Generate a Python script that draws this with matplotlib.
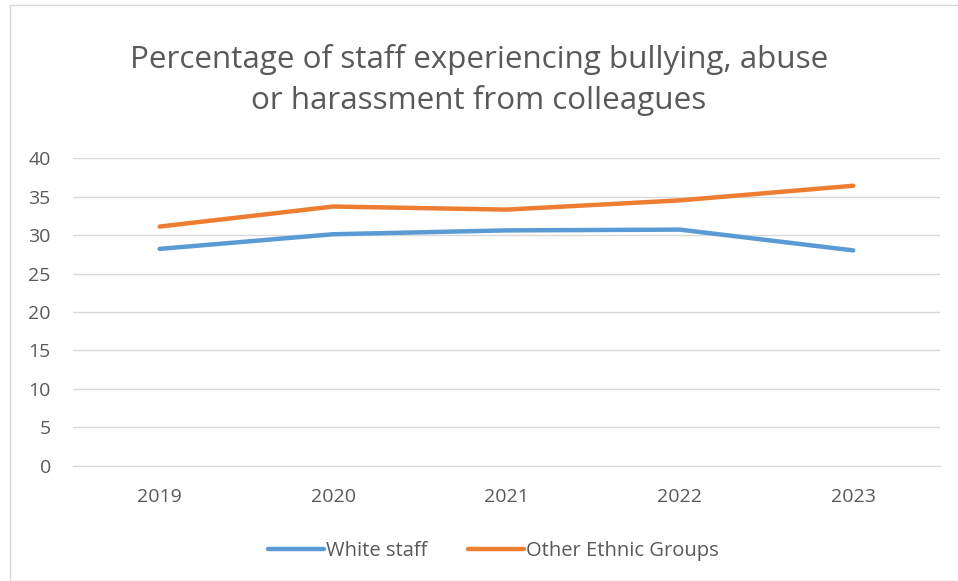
import matplotlib.pyplot as plt
from matplotlib.patches import Rectangle

years = ['2019', '2020', '2021', '2022', '2023']
white_staff = [28.2, 30.1, 30.6, 30.7, 28.0]
other_ethnic = [31.1, 33.7, 33.3, 34.5, 36.4]

plt.rcParams['font.family'] = ['Open Sans', 'DejaVu Sans']
grey = '#595959'

fig = plt.figure(figsize=(9.58, 5.81), dpi=100)
ax = fig.add_axes([0.0762, 0.198, 0.905, 0.530])

x = range(len(years))
ax.plot(x, white_staff, color='#5B9BD5', lw=3.2, solid_capstyle='round', label='White staff')
ax.plot(x, other_ethnic, color='#ED7D31', lw=3.2, solid_capstyle='round', label='Other Ethnic Groups')

ax.set_xlim(-0.5, 4.5)
ax.set_ylim(0, 40)
ax.set_yticks(range(0, 41, 5))
ax.set_xticks(list(x))
ax.set_xticklabels(years)
ax.yaxis.grid(True, color='#D9D9D9', lw=1)
ax.set_axisbelow(True)
for s in ['top', 'right', 'left']:
    ax.spines[s].set_visible(False)
ax.spines['bottom'].set_color('#D9D9D9')
ax.tick_params(axis='both', length=0, labelsize=14, colors=grey)
ax.tick_params(axis='x', pad=16)
ax.tick_params(axis='y', pad=16)

fig.text(0.5, 0.862, 'Percentage of staff experiencing bullying, abuse\nor harassment from colleagues',
         ha='center', va='center', fontsize=22.6, color=grey, linespacing=1.4)

fig.legend(loc='center', bbox_to_anchor=(0.515, 0.051), ncol=2, frameon=False,
           fontsize=14.5, labelcolor=grey, handlelength=2.8, handletextpad=0.1, columnspacing=2.0)

# chart border
fig.patches.append(Rectangle((10 / 958, 0), 1.0, 1 - 5 / 581, transform=fig.transFigure,
                             fill=False, edgecolor='#D9D9D9', lw=1))

fig.savefig('out.png', dpi=100)
